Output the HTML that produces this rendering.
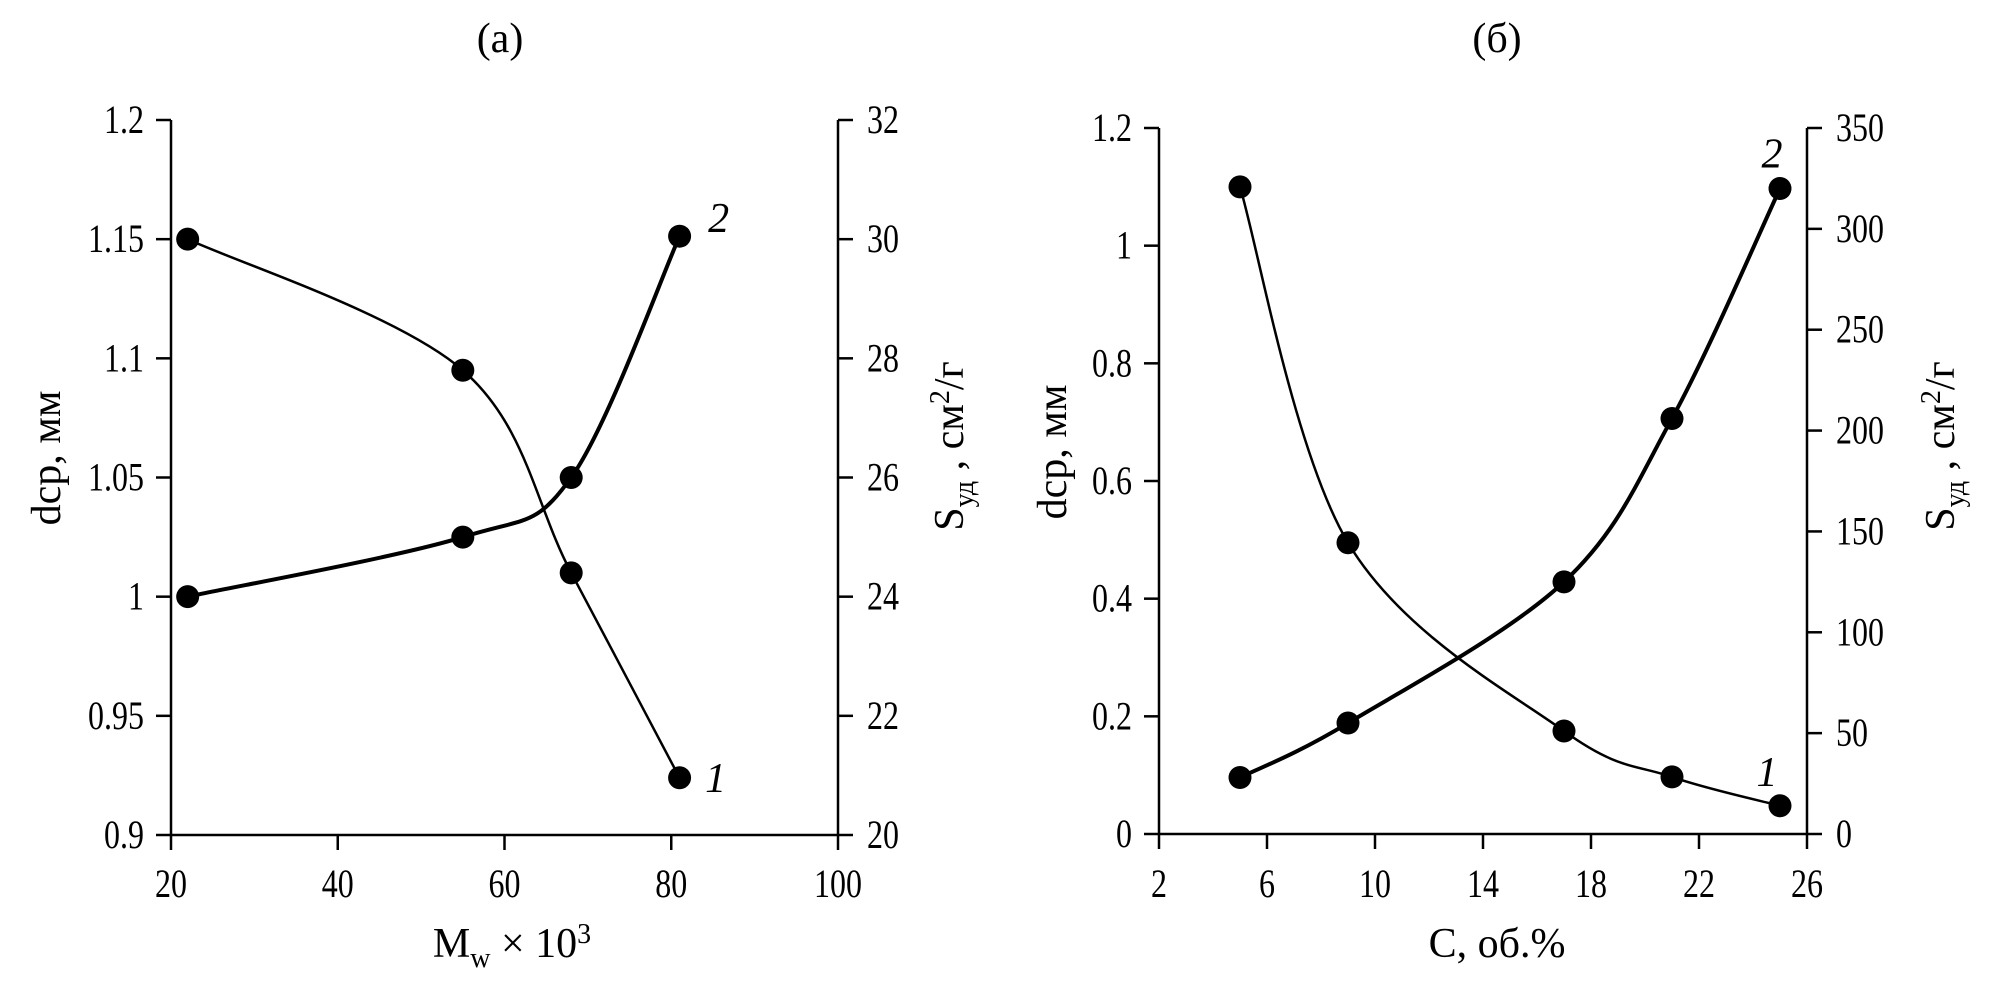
<!DOCTYPE html>
<html><head><meta charset="utf-8"><style>
html,body{margin:0;padding:0;background:#fff;}
svg{display:block;font-family:"Liberation Serif",serif;}
</style></head><body>
<svg id="fig" width="2000" height="996" viewBox="0 0 2000 996" xmlns="http://www.w3.org/2000/svg"></svg>
<script>
// Panel (a)
const aX = [22, 55, 68, 81];
const aD = [1.15, 1.095, 1.01, 0.924];
const aS = [24, 25, 26, 30.05];
const aXTicks = [20, 40, 60, 80, 100];
const aLTicks = ["0.9","0.95","1","1.05","1.1","1.15","1.2"];
const aRTicks = ["20","22","24","26","28","30","32"];
// Panel (б)
const bX = [5, 9, 17, 21, 25];
const bD = [1.1, 0.495, 0.175, 0.097, 0.048];
const bS = [28, 55, 125, 206, 320];
const bXTicks = [2, 6, 10, 14, 18, 22, 26];
const bLTicks = ["0","0.2","0.4","0.6","0.8","1","1.2"];
const bRTicks = ["0","50","100","150","200","250","300","350"];

const NS = "http://www.w3.org/2000/svg";
const svg = document.getElementById('fig');
function el(tag, attrs, parent, text){
  const e = document.createElementNS(NS, tag);
  for (const k in attrs) e.setAttribute(k, attrs[k]);
  if (text !== undefined) e.textContent = text;
  (parent || svg).appendChild(e);
  return e;
}
function lin(d0,d1,r0,r1){return v=>r0+(v-d0)*(r1-r0)/(d1-d0);}
function smooth(pts){
  let d = "M"+pts[0][0]+","+pts[0][1];
  for (let i=0;i<pts.length-1;i++){
    const p0=pts[Math.max(0,i-1)], p1=pts[i], p2=pts[i+1], p3=pts[Math.min(pts.length-1,i+2)];
    const t=0.5/3;
    const c1=[p1[0]+(p2[0]-p0[0])*t, p1[1]+(p2[1]-p0[1])*t];
    const c2=[p2[0]-(p3[0]-p1[0])*t, p2[1]-(p3[1]-p1[1])*t];
    d+=" C"+c1[0]+","+c1[1]+" "+c2[0]+","+c2[1]+" "+p2[0]+","+p2[1];
  }
  return d;
}
function ntext(g, x, y, anchor, s){
  return el('text', {transform:`translate(${x},${y}) scale(0.8,1)`, 'font-size':40, 'text-anchor':anchor}, g, s);
}
function panel(cfg){
  const g = el('g', {});
  
  
  const {x0,x1,y0,y1} = cfg;
  const xs = lin(cfg.xd[0], cfg.xd[1], x0, x1);
  const yl = lin(cfg.ld[0], cfg.ld[1], y0, y1);
  const yr = lin(cfg.rd[0], cfg.rd[1], y0, y1);
  const st = {stroke:'#000','stroke-width':2.5,fill:'none'};
  const ax = el('path', Object.assign({d:`M${x0},${y1} V${y0} H${x1} V${y1}`}, st), g);
  
  
  cfg.xt.forEach(v=>{
    const x = xs(v);
    el('line', Object.assign({x1:x,x2:x,y1:y0,y2:y0+15}, st), g);
    const t = ntext(g, x, 897, 'middle', String(v));
    
    
  });
  cfg.lt.forEach((s,i)=>{
    const y = y0 + (y1-y0)*i/(cfg.lt.length-1);
    el('line', Object.assign({x1:x0-15,x2:x0,y1:y,y2:y}, st), g);
    const t = ntext(g, x0-27, y+13, 'end', s);
    
    
  });
  cfg.rt.forEach((s,i)=>{
    const y = y0 + (y1-y0)*i/(cfg.rt.length-1);
    el('line', Object.assign({x1:x1,x2:x1+15,y1:y,y2:y}, st), g);
    const t = ntext(g, x1+29, y+13, 'start', s);
    
    
  });
  const p1 = cfg.X.map((v,i)=>[xs(v), yl(cfg.D[i])]);
  const l1 = el('path', {d:smooth(p1), stroke:'#000','stroke-width':2.5, fill:'none'}, g);
  
  
  const p2 = cfg.X.map((v,i)=>[xs(v), yr(cfg.S[i])]);
  const l2 = el('path', {d:smooth(p2), stroke:'#000','stroke-width':4, fill:'none'}, g);
  
  
  p1.forEach(p=>{
    const c = el('circle', {cx:p[0], cy:p[1], r:11.5, fill:'#000'}, g);
    
    
  });
  p2.forEach(p=>{
    const c = el('circle', {cx:p[0], cy:p[1], r:11.5, fill:'#000'}, g);
    
    
  });
  const last = p1.length-1;
  const c1 = el('text', {x:p1[last][0]+cfg.lab1[0], y:p1[last][1]+cfg.lab1[1], 'font-size':42, 'font-style':'italic','text-anchor':'middle'}, g, '1');
  
  
  const c2 = el('text', {x:p2[last][0]+cfg.lab2[0], y:p2[last][1]+cfg.lab2[1], 'font-size':42, 'font-style':'italic','text-anchor':'middle'}, g, '2');
  
  
  return g;
}
panel({name:'panel-a', x0:171, x1:838, y0:835, y1:120, xd:[20,100], ld:[0.9,1.2], rd:[20,32],
  X:aX, D:aD, S:aS, xt:aXTicks, lt:aLTicks, rt:aRTicks, lab1:[36,14], lab2:[39,-4]});
panel({name:'panel-b', x0:1159, x1:1807, y0:834, y1:128, xd:[2,26], ld:[0,1.2], rd:[0,350],
  X:bX, D:bD, S:bS, xt:bXTicks, lt:bLTicks, rt:bRTicks, lab1:[-13,-20], lab2:[-8,-21]});
</script>
<svg style="position:absolute;left:0;top:0" width="2000" height="996">
  <text x="500" y="52" font-size="42" text-anchor="middle" font-family="Liberation Serif, serif">(a)</text>
  <text x="1497" y="52" font-size="42" text-anchor="middle" font-family="Liberation Serif, serif">(б)</text>
  <text x="512" y="957" font-size="42" text-anchor="middle" font-family="Liberation Serif, serif">M<tspan font-size="28" dy="10">w</tspan><tspan dy="-10"> × 10</tspan><tspan font-size="28" dy="-14">3</tspan></text>
  <text x="1497" y="957" font-size="42" text-anchor="middle" font-family="Liberation Serif, serif">C, об.%</text>
  <text transform="translate(60,458) rotate(-90)" font-size="42" text-anchor="middle" font-family="Liberation Serif, serif">dcp, мм</text>
  <text transform="translate(963,446) rotate(-90)" font-size="42" text-anchor="middle" font-family="Liberation Serif, serif">S<tspan font-size="28" dy="10">уд</tspan><tspan dy="-10"> , см</tspan><tspan font-size="28" dy="-14">2</tspan><tspan dy="14">/г</tspan></text>
  <text transform="translate(1066,452) rotate(-90)" font-size="42" text-anchor="middle" font-family="Liberation Serif, serif">dcp, мм</text>
  <text transform="translate(1954,446) rotate(-90)" font-size="42" text-anchor="middle" font-family="Liberation Serif, serif">S<tspan font-size="28" dy="10">уд</tspan><tspan dy="-10"> , см</tspan><tspan font-size="28" dy="-14">2</tspan><tspan dy="14">/г</tspan></text>
</svg>
</body></html>
